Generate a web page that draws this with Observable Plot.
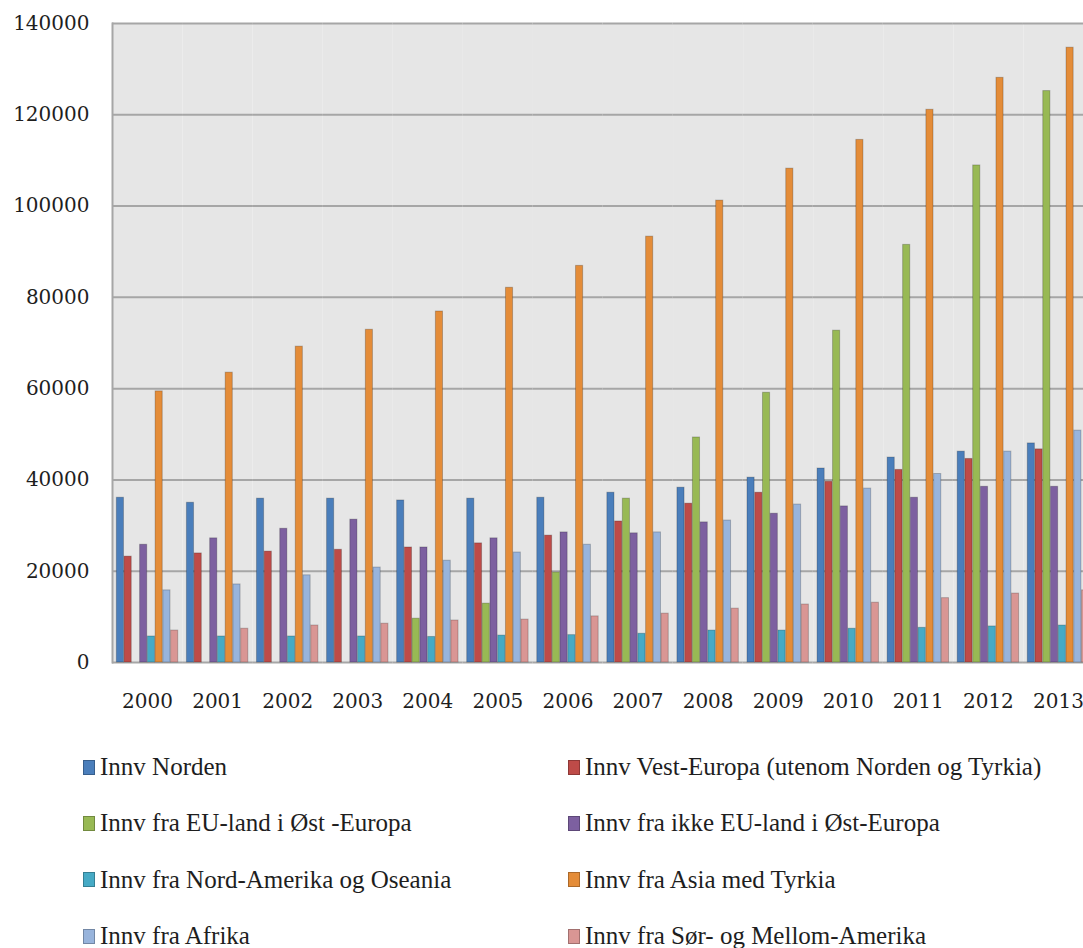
<!DOCTYPE html>
<html>
<head>
<meta charset="utf-8">
<script src="https://cdn.jsdelivr.net/npm/d3@7"></script>
<script src="https://cdn.jsdelivr.net/npm/@observablehq/plot@0.6"></script>
<style>
  html, body { margin: 0; padding: 0; background: #fff; overflow: hidden; width: 1083px; }
  #legend {
    display: grid;
    grid-template-columns: 485px 500px;
    padding-left: 83px;
    margin-top: 9px;
    font-family: "Liberation Serif", "DejaVu Serif", serif;
    font-size: 25px;
    color: #1e1e1e;
  }
  .item { height: 56.3px; display: flex; align-items: center; white-space: nowrap; }
  .sw { width: 12px; height: 15px; margin-right: 5px; box-sizing: border-box; border: 1px solid rgba(0,0,0,0.25); }
</style>
</head>
<body>
<div id="chart"></div>
<div id="legend"></div>
<script>
const years = [2000, 2001, 2002, 2003, 2004, 2005, 2006, 2007, 2008, 2009, 2010, 2011, 2012, 2013];

const seriesNames = [
  "Innv Norden",
  "Innv Vest-Europa (utenom Norden og Tyrkia)",
  "Innv fra EU-land i Øst -Europa",
  "Innv fra ikke EU-land i Øst-Europa",
  "Innv fra Nord-Amerika og Oseania",
  "Innv fra Asia med Tyrkia",
  "Innv fra Afrika",
  "Innv fra Sør- og Mellom-Amerika"
];

const norden    = [36100, 35000, 35900, 35900, 35500, 35900, 36100, 37200, 38300, 40500, 42500, 44900, 46200, 48000];
const vestEur   = [23200, 23900, 24300, 24700, 25200, 26100, 27800, 30900, 34800, 37200, 39600, 42200, 44600, 46700];
const euOst     = [0, 0, 0, 0, 9600, 12900, 19700, 35900, 49300, 59100, 72700, 91500, 108900, 125200];
const ikkeEuOst = [25800, 27200, 29300, 31300, 25200, 27200, 28500, 28300, 30700, 32600, 34200, 36100, 38500, 38500];
const nordAm    = [5700, 5700, 5700, 5700, 5600, 5900, 6000, 6300, 7000, 7000, 7400, 7600, 7900, 8100];
const asia      = [59400, 63500, 69200, 72900, 76900, 82100, 86900, 93300, 101200, 108200, 114500, 121100, 128100, 134700];
const afrika    = [15800, 17100, 19100, 20800, 22300, 24100, 25800, 28500, 31100, 34600, 38100, 41300, 46200, 50800];
const sorAm     = [7000, 7400, 8100, 8500, 9200, 9400, 10100, 10700, 11800, 12700, 13100, 14100, 15100, 15800];

const yTicks = [0, 20000, 40000, 60000, 80000, 100000, 120000, 140000];

const colors = ["#4a7ebb", "#be4b48", "#98b954", "#7d60a0", "#46aac5", "#e48c38", "#98b4dc", "#d99694"];

const seriesValues = [norden, vestEur, euOst, ikkeEuOst, nordAm, asia, afrika, sorAm];

const data = [];
years.forEach((yr, i) => {
  seriesNames.forEach((s, j) => {
    const v = seriesValues[j][i];
    if (v > 0) data.push({year: yr, series: s, value: v});
  });
});

const serif = "DejaVu Serif, Liberation Serif, serif";

const chart = Plot.plot({
  width: 1093,
  height: 730,
  marginLeft: 112,
  marginRight: 0,
  marginTop: 23,
  marginBottom: 68,
  style: {fontFamily: serif, fontSize: "20px", color: "#222", maxWidth: "none", background: "#fff"},
  fx: {domain: years, paddingInner: 0, paddingOuter: 0, round: false, label: null, axis: null},
  x: {domain: seriesNames, paddingInner: 0.08, paddingOuter: 0.56, round: false, axis: null},
  y: {domain: [0, 140000], axis: null},
  color: {domain: seriesNames, range: colors},
  marks: [
    Plot.frame({fill: "#e6e6e6", stroke: null}),
    Plot.gridY(yTicks, {stroke: "#a6a6a6", strokeOpacity: 1, strokeWidth: 2}),
    Plot.frame({anchor: "left", facetAnchor: "left", stroke: "#a6a6a6", strokeWidth: 2}),
    Plot.barY(data, {
      fx: "year", x: "series", y: "value",
      fill: "series",
      stroke: "#000", strokeOpacity: 0.22, strokeWidth: 1
    }),
    Plot.axisY(yTicks, {
      tickSize: 0, tickPadding: 23, tickFormat: d => String(d),
      fontSize: 20, fontFamily: serif, fill: "#1e1e1e", label: null
    }),
    Plot.axisFx({
      anchor: "bottom", tickSize: 0, tickPadding: 31,
      tickFormat: d => String(d), fontSize: 20, fontFamily: serif, fill: "#1e1e1e", label: null
    })
  ]
});

document.getElementById("chart").appendChild(chart);

const legend = document.getElementById("legend");
seriesNames.forEach((s, j) => {
  const item = document.createElement("div");
  item.className = "item";
  const sw = document.createElement("span");
  sw.className = "sw";
  sw.style.background = colors[j];
  const label = document.createElement("span");
  label.textContent = s;
  item.appendChild(sw);
  item.appendChild(label);
  legend.appendChild(item);
});
</script>
</body>
</html>
